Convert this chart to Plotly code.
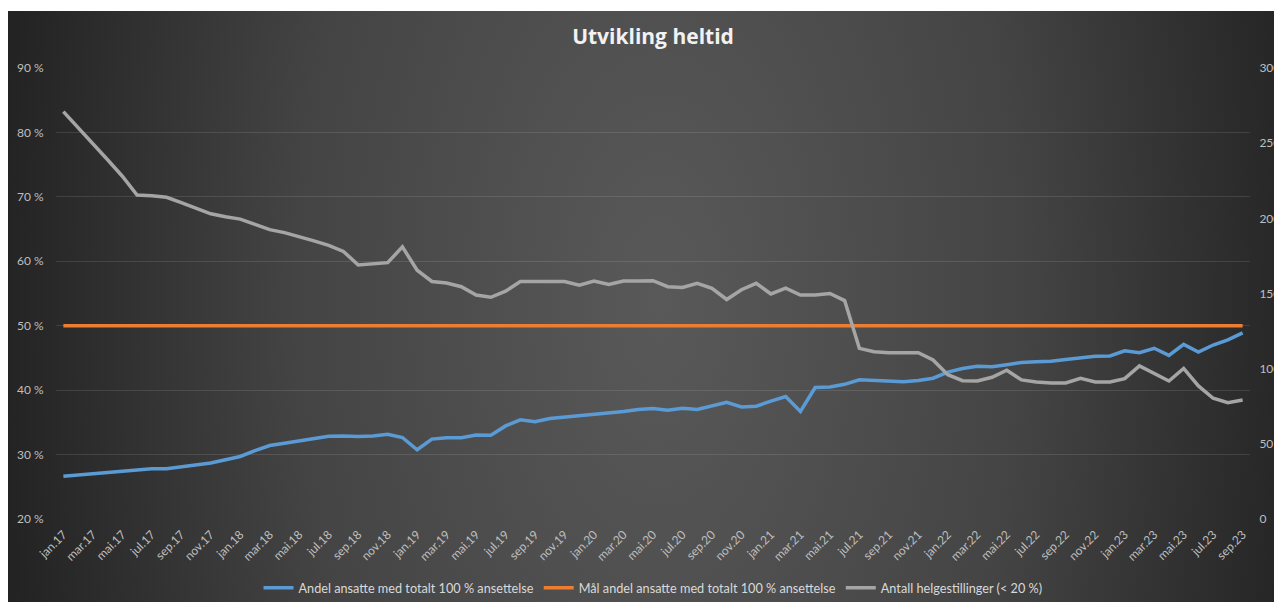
import base64
import plotly.graph_objects as go

# ---------------- data ----------------
month_names = ["jan", "feb", "mar", "apr", "mai", "jun", "jul", "aug", "sep", "okt", "nov", "des"]
years = ["17", "18", "19", "20", "21", "22", "23"]
months = [f"{m}.{y}" for y in years for m in month_names][:81]  # jan.17 .. sep.23

andel_100 = [
    26.65, 26.85, 27.05, 27.3, 27.5, 27.7, 27.8, 27.8, 28.1, 28.35, 28.7, 29.2,
    29.7, 30.6, 31.4, 31.75, 32.1, 32.5, 32.85, 32.9, 32.8, 32.9, 33.15, 32.65,
    30.75, 32.4, 32.6, 32.6, 33.05, 33.0, 34.45, 35.4, 35.1, 35.6, 35.8, 36.0,
    36.2, 36.5, 36.7, 37.0, 37.15, 36.9, 37.2, 37.0, 37.55, 38.1, 37.4, 37.5,
    38.3, 39.0, 36.7, 40.4, 40.5, 40.9, 41.6, 41.5, 41.3, 41.3, 41.5, 41.85,
    42.8, 43.35, 43.7, 43.65, 43.95, 44.3, 44.4, 44.5, 44.75, 44.95, 45.25, 45.3,
    46.1, 45.8, 46.5, 45.4, 47.1, 45.9, 47.0, 47.8, 48.9,
]

maal_value = 50.0
maal_100 = [maal_value] * len(months)

helgestillinger = [
    271, 260.5, 250, 239, 228, 215.5, 215, 214, 210.5, 206.5, 203, 201,
    199.5, 196, 192.5, 190.5, 188, 185, 182, 178, 169, 169.5, 170.5, 181,
    165.5, 158, 157, 154.5, 149, 147.5, 151.5, 158, 158, 158, 158, 155.5,
    158.3, 156, 158.3, 158.3, 158.5, 154.5, 154, 156.8, 153.5, 146, 152.5, 156.8,
    149.7, 153.5, 149, 149, 150, 145.3, 113.5, 111.3, 110.6, 110.6, 110.6, 105.8,
    96, 92, 91.8, 94.3, 99, 92.5, 91.2, 90.5, 90.5, 93.6, 91.2, 91.2,
    93.4, 101.8, 96.9, 91.8, 100.2, 88.5, 80.3, 77.4, 79.2,
]

left_ticks = [20, 30, 40, 50, 60, 70, 80, 90]
left_ticktext = [f"{v} %" for v in left_ticks]
right_ticks = [0, 50, 100, 150, 200, 250, 300]

series_names = [
    "Andel ansatte med totalt 100 % ansettelse",
    "Mål andel ansatte med totalt 100 % ansettelse",
    "Antall helgestillinger (< 20 %)",
]
title_text = "Utvikling heltid"

# ---------------- layout geometry ----------------
# the page body keeps its default 8px margin, so the figure starts at (8, 8)
W, H = 1274, 594
ML, MR, MT, MB = 48, 32, 60, 83
PW, PH = W - ML - MR, H - MT - MB

# background: thin white strip on top + dark radial gradient
svg = f'''<svg xmlns="http://www.w3.org/2000/svg" width="{W}" height="{H}" viewBox="0 0 {W} {H}">
<defs><radialGradient id="g" gradientUnits="userSpaceOnUse" cx="652" cy="292" r="660"
 gradientTransform="translate(652 292) scale(1 1.9) translate(-652 -292)">
<stop offset="0" stop-color="#595959"/><stop offset="0.55" stop-color="#444444"/>
<stop offset="1" stop-color="#232323"/></radialGradient></defs>
<rect x="0" y="0" width="{W}" height="{H}" fill="#ffffff"/>
<rect x="0" y="3" width="{W}" height="{H-3}" fill="url(#g)"/>
</svg>'''
bg_uri = "data:image/svg+xml;base64," + base64.b64encode(svg.encode()).decode()

font_family = "Lato, 'Open Sans', sans-serif"
tick_color = "#bfbfbf"

fig = go.Figure()
fig.add_trace(go.Scatter(
    x=months, y=andel_100, name=series_names[0], mode="lines",
    line=dict(color="#5b9bd5", width=3.5), yaxis="y",
))
fig.add_trace(go.Scatter(
    x=months, y=maal_100, name=series_names[1], mode="lines",
    line=dict(color="#ed7d31", width=3.5), yaxis="y",
))
fig.add_trace(go.Scatter(
    x=months, y=helgestillinger, name=series_names[2], mode="lines",
    line=dict(color="#a5a5a5", width=3.5), yaxis="y2",
))

fig.update_layout(
    template="none",
    width=W, height=H,
    margin=dict(l=ML, r=MR, t=MT, b=MB, autoexpand=False),
    paper_bgcolor="#333333",
    plot_bgcolor="rgba(0,0,0,0)",
    font=dict(family=font_family, color=tick_color, size=12),
    title=dict(
        text=title_text, x=0.5, xref="paper", xanchor="center",
        y=1 - 29 / H, yref="container", yanchor="middle",
        font=dict(family="'Open Sans', sans-serif", size=21, color="#f2f2f2", weight="bold"),
    ),
    xaxis=dict(
        type="category", categoryorder="array", categoryarray=months,
        range=[-0.5, len(months) - 0.5],
        tickvals=months[::2], ticktext=months[::2],
        tickangle=-45, tickfont=dict(size=12, color=tick_color),
        showgrid=False, zeroline=False, showline=False,
        ticks="outside", ticklen=3, tickcolor="rgba(0,0,0,0)",
        automargin=False, fixedrange=True,
    ),
    yaxis=dict(
        range=[20, 90], tickvals=left_ticks, ticktext=left_ticktext,
        showgrid=True, gridcolor="rgba(255,255,255,0.11)", gridwidth=1,
        zeroline=False, showline=False,
        ticks="outside", ticklen=9, tickcolor="rgba(0,0,0,0)",
        tickfont=dict(size=12, color=tick_color), automargin=False,
    ),
    yaxis2=dict(
        range=[0, 300], tickvals=right_ticks, overlaying="y", side="right",
        showgrid=False, zeroline=False, showline=False,
        ticks="outside", ticklen=6, tickcolor="rgba(0,0,0,0)",
        tickfont=dict(size=12, color=tick_color), automargin=False,
    ),
    legend=dict(
        orientation="h", x=0.5, xanchor="center", y=-(580 - (H - MB)) / PH,
        yanchor="middle", bgcolor="rgba(0,0,0,0)",
        font=dict(size=12.7, color="#d9d9d9", family=font_family),
        itemwidth=30, tracegroupgap=0,
    ),
    images=[dict(
        source=bg_uri, xref="paper", yref="paper",
        x=-ML / PW, y=1 + MT / PH, sizex=W / PW, sizey=H / PH,
        xanchor="left", yanchor="top", sizing="stretch", layer="below",
    )],
    showlegend=True,
    hovermode=False,
)

fig.write_html("out.html", include_plotlyjs=True, full_html=True,
               config={"displayModeBar": False})
